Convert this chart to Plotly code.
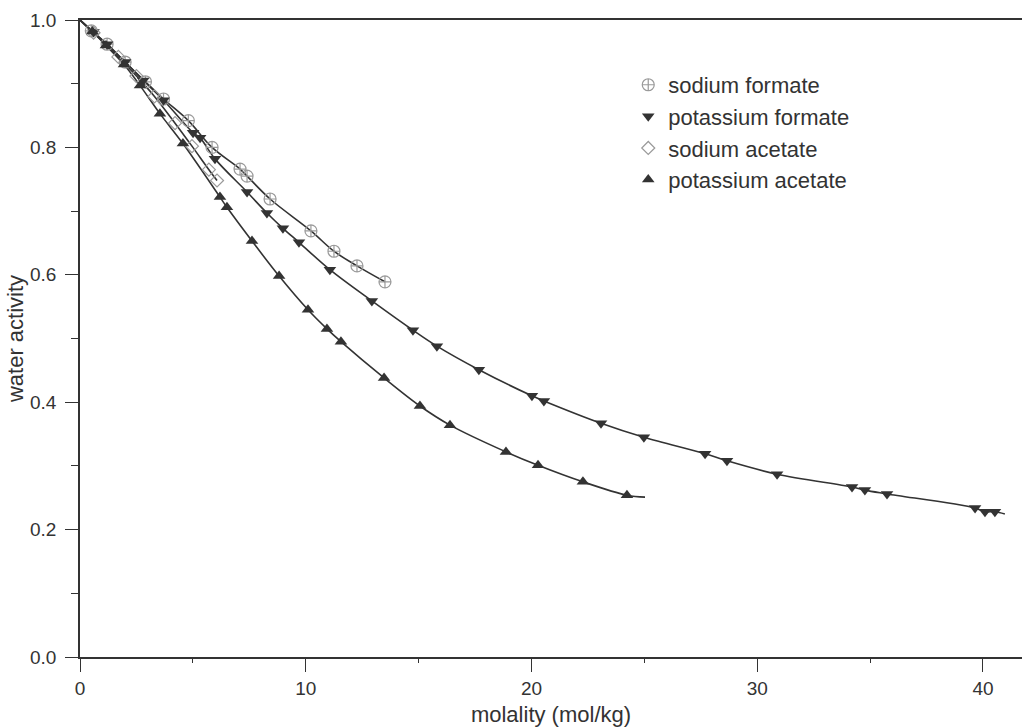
import plotly.graph_objects as go

# ---- data (molality mol/kg, water activity) ----
na_formate_m = [0.5, 1.2, 2.0, 2.9, 3.7, 4.8, 5.85, 7.09, 7.40, 8.42, 10.23, 11.25, 12.27, 13.51]
na_formate_aw = [0.983, 0.962, 0.934, 0.903, 0.876, 0.842, 0.800, 0.766, 0.755, 0.719, 0.669, 0.637, 0.614, 0.589]

k_formate_m = [0.6, 1.2, 2.0, 2.8, 3.7, 5.01, 5.32, 5.98, 7.40, 8.28, 8.99, 9.70, 11.07, 12.93, 14.75,
               15.81, 17.67, 20.02, 20.55, 23.08, 24.98, 27.69, 28.66, 30.88, 34.20, 34.77, 35.75,
               39.65, 40.09, 40.53]
k_formate_aw = [0.981, 0.962, 0.934, 0.905, 0.874, 0.823, 0.815, 0.782, 0.730, 0.697, 0.673, 0.651,
                0.608, 0.559, 0.513, 0.488, 0.451, 0.410, 0.402, 0.367, 0.345, 0.319, 0.308, 0.287,
                0.267, 0.262, 0.256, 0.234, 0.228, 0.228]

na_acetate_m = [0.6, 1.7, 2.5, 3.3, 4.21, 4.96, 5.71, 6.07]
na_acetate_aw = [0.980, 0.942, 0.912, 0.880, 0.838, 0.802, 0.765, 0.748]

k_acetate_m = [0.55, 1.15, 1.95, 2.66, 3.54, 4.56, 6.20, 6.51, 7.62, 8.82, 10.10, 10.94, 11.56, 13.47,
               15.06, 16.39, 18.87, 20.29, 22.28, 24.23]
k_acetate_aw = [0.982, 0.960, 0.930, 0.897, 0.853, 0.806, 0.722, 0.706, 0.653, 0.598, 0.545, 0.515,
                0.495, 0.438, 0.394, 0.364, 0.322, 0.301, 0.275, 0.254]

curve_start = (0.0, 1.0)
k_formate_curve_end = (40.97, 0.2245)
k_acetate_curve_end = (25.03, 0.251)

x_ticks = [0, 10, 20, 30, 40]
y_ticks = [0.0, 0.2, 0.4, 0.6, 0.8, 1.0]

DARK = "#333333"
LIGHT = "#9a9a9a"
FONT = "Liberation Sans, Arial, Helvetica, sans-serif"

fig = go.Figure()

def curve(xs, ys, end=None):
    cx = [curve_start[0]] + list(xs)
    cy = [curve_start[1]] + list(ys)
    if end is not None:
        cx.append(end[0]); cy.append(end[1])
    fig.add_trace(go.Scatter(x=cx, y=cy, mode="lines", showlegend=False, hoverinfo="skip",
                             line=dict(color=DARK, width=1.6, shape="spline", smoothing=1.0)))

curve(na_formate_m, na_formate_aw)
curve(k_formate_m, k_formate_aw, k_formate_curve_end)
curve(na_acetate_m, na_acetate_aw)
curve(k_acetate_m, k_acetate_aw, k_acetate_curve_end)

fig.add_trace(go.Scatter(x=na_formate_m, y=na_formate_aw, mode="markers", name="sodium formate",
                         marker=dict(symbol="circle-cross-open", size=12, color=LIGHT,
                                     line=dict(width=1.2, color=LIGHT))))
fig.add_trace(go.Scatter(x=k_formate_m, y=k_formate_aw, mode="markers", name="potassium formate",
                         marker=dict(symbol="triangle-down", size=11, color=DARK)))
fig.add_trace(go.Scatter(x=na_acetate_m, y=na_acetate_aw, mode="markers", name="sodium acetate",
                         marker=dict(symbol="diamond-open", size=10, color=LIGHT,
                                     line=dict(width=1.2, color=LIGHT))))
fig.add_trace(go.Scatter(x=k_acetate_m, y=k_acetate_aw, mode="markers", name="potassium acetate",
                         marker=dict(symbol="triangle-up", size=11, color=DARK)))

fig.update_layout(
    width=1022, height=727,
    margin=dict(l=80, r=0, t=20, b=70),
    paper_bgcolor="white", plot_bgcolor="white",
    font=dict(family=FONT, size=19, color=DARK),
    legend=dict(x=0.582, y=0.931, xanchor="left", yanchor="top", traceorder="normal",
                font=dict(size=22, color=DARK), bgcolor="rgba(0,0,0,0)"),
    xaxis=dict(range=[0, 41.73], tickvals=x_ticks, ticks="outside", ticklen=13, tickwidth=1.3,
               tickcolor=DARK, showline=True, linecolor=DARK, linewidth=1.6, mirror=True,
               showgrid=False, zeroline=False,
               minor=dict(dtick=5, ticks="outside", ticklen=4, tickwidth=1.2, tickcolor=DARK),
               title=dict(text="molality (mol/kg)", standoff=10, font=dict(size=22))),
    yaxis=dict(range=[0, 1.0], tickvals=y_ticks, tickformat=".1f", ticks="outside", ticklen=13,
               tickwidth=1.3, tickcolor=DARK, showline=True, linecolor=DARK, linewidth=1.6,
               showgrid=False, zeroline=False, ticklabelstandoff=5,
               minor=dict(dtick=0.1, ticks="outside", ticklen=7, tickwidth=1.2, tickcolor=DARK),
               title=dict(text="water activity", standoff=0, font=dict(size=22))),
)

fig.write_html("out.html")
